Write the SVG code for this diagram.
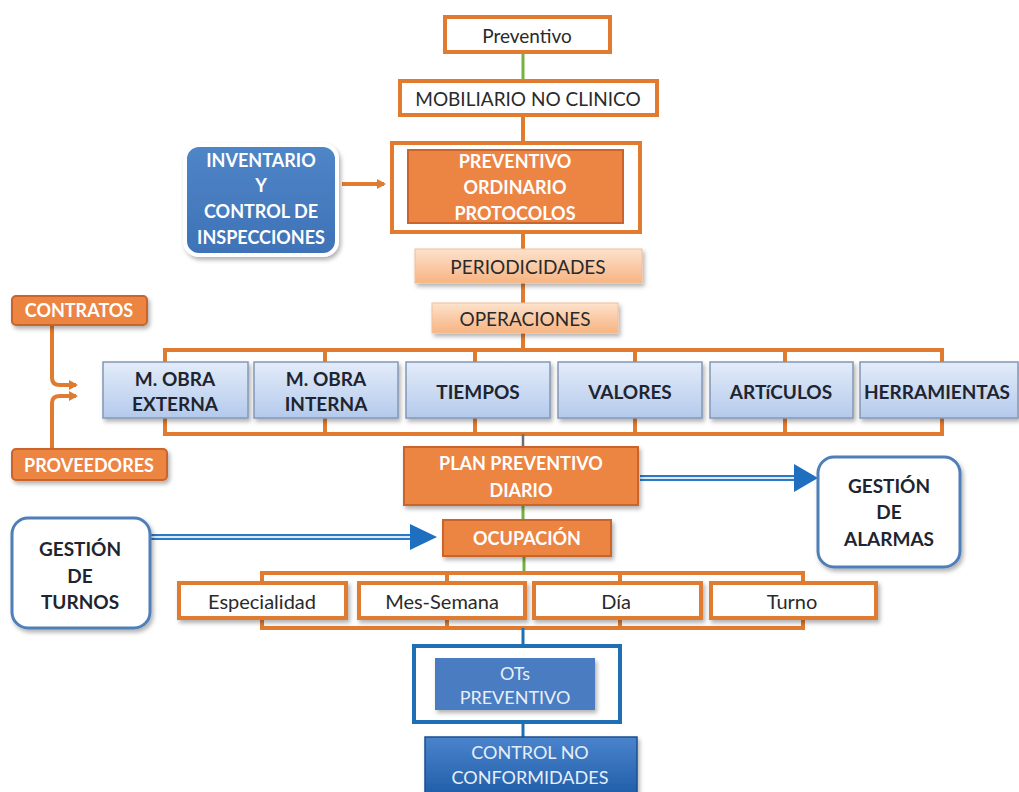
<svg xmlns="http://www.w3.org/2000/svg" width="1019" height="792" viewBox="0 0 1019 792">
<defs>
<linearGradient id="gBlueLight" x1="0" y1="0" x2="0" y2="1"><stop offset="0" stop-color="#e3ecf9"/><stop offset="1" stop-color="#b4caec"/></linearGradient>
<linearGradient id="gPeach" x1="0" y1="0" x2="0" y2="1"><stop offset="0" stop-color="#fde2cc"/><stop offset="1" stop-color="#f7b482"/></linearGradient>
<linearGradient id="gBlueDark" x1="0" y1="0" x2="0" y2="1"><stop offset="0" stop-color="#4a84cc"/><stop offset="1" stop-color="#1f5ca8"/></linearGradient>
<linearGradient id="gInv" x1="0" y1="0" x2="0" y2="1"><stop offset="0" stop-color="#4f86c8"/><stop offset="1" stop-color="#3e72b6"/></linearGradient>
<filter id="sh" x="-10%" y="-10%" width="130%" height="140%"><feDropShadow dx="2" dy="3" stdDeviation="2" flood-color="#000" flood-opacity="0.3"/></filter>
<marker id="arO" markerWidth="10" markerHeight="10" refX="7" refY="5" orient="auto" markerUnits="userSpaceOnUse"><path d="M0,0 L9,5 L0,10 z" fill="#e07b30"/></marker>
</defs>
<style>
text{font-family:Lato,"Noto Sans","Liberation Sans",sans-serif;text-anchor:middle;dominant-baseline:central}
.ob{fill:#fff;stroke:#e07b30;stroke-width:4}
.of{fill:#ec8443;stroke:#c9652a;stroke-width:2}
.bl{fill:url(#gBlueLight);stroke:#8497b6;stroke-width:1.5}
.pe{fill:url(#gPeach);stroke:#f0c09a;stroke-width:1}
.w{fill:#fff;font-weight:bold;font-size:18px}
.d{fill:#2a2a2a;font-size:19px}
.d2{fill:#2a2a2a;font-size:20px}
.db{fill:#1e2530;font-weight:bold;font-size:19px}
.lw{fill:#e8eef8;font-size:18px}
.lo{stroke:#e07b30;stroke-width:4;fill:none}
.lg{stroke:#77b043;stroke-width:3;fill:none}
.lb{stroke:#1f6fb5;stroke-width:3;fill:none}
</style>
<rect width="1019" height="792" fill="#fff"/>

<g id="connectors">
<line class="lg" x1="523" y1="52" x2="523" y2="82"/>
<line class="lo" x1="523" y1="115" x2="523" y2="145"/>
<line class="lo" x1="342" y1="184" x2="384" y2="184" marker-end="url(#arO)"/>
<line class="lo" x1="523" y1="232" x2="523" y2="250"/>
<line class="lo" x1="523" y1="283" x2="523" y2="304"/>
<line class="lo" x1="523" y1="333" x2="523" y2="350"/>
<rect class="lo" x="165" y="350" width="777" height="84" stroke-width="3.5"/>
<line class="lo" x1="325" y1="350" x2="325" y2="434" stroke-width="3.5"/>
<line class="lo" x1="475" y1="350" x2="475" y2="434" stroke-width="3.5"/>
<line class="lo" x1="635" y1="350" x2="635" y2="434" stroke-width="3.5"/>
<line class="lo" x1="785" y1="350" x2="785" y2="434" stroke-width="3.5"/>
<line x1="523" y1="434" x2="523" y2="448" stroke="#6f6f6f" stroke-width="2.5"/>
<path class="lo" d="M52,325 V378 Q52,385 60,385 H76" marker-end="url(#arO)"/>
<path class="lo" d="M52,449 V403 Q52,396 60,396 H76" marker-end="url(#arO)"/>
<line class="lg" x1="523" y1="505" x2="523" y2="521"/>
<line x1="640" y1="478" x2="798" y2="478" stroke="#2a78c8" stroke-width="6"/>
<line x1="640" y1="478" x2="798" y2="478" stroke="#dbe8f6" stroke-width="2"/>
<path d="M794,464 L818,478 L794,492 z" fill="#1f6fc0"/>
<line x1="150" y1="537" x2="414" y2="537" stroke="#2a78c8" stroke-width="6"/>
<line x1="150" y1="537" x2="414" y2="537" stroke="#dbe8f6" stroke-width="2"/>
<path d="M410,524 L437,537 L410,550 z" fill="#1f6fc0"/>
<line class="lg" x1="524" y1="556" x2="524" y2="573"/>
<rect class="lo" x="262" y="573" width="541" height="55" stroke-width="3.5"/>
<line class="lo" x1="447" y1="573" x2="447" y2="628" stroke-width="3.5"/>
<line class="lo" x1="620" y1="573" x2="620" y2="628" stroke-width="3.5"/>
<line class="lb" x1="523" y1="628" x2="523" y2="646"/>
<line class="lb" x1="523" y1="722" x2="523" y2="738"/>
</g>

<g id="n-preventivo"><rect class="ob" x="445" y="17" width="165" height="35"/><text class="d" x="527" y="35">Preventivo</text></g>
<g id="n-mobiliario"><rect class="ob" x="400" y="81" width="257" height="34"/><text class="d" x="528" y="98">MOBILIARIO NO CLINICO</text></g>
<g id="n-protocolos"><rect class="ob" x="392" y="143" width="248" height="89"/><rect class="of" x="408" y="150" width="215" height="73"/>
<text class="w" x="515" y="161">PREVENTIVO</text><text class="w" x="515" y="187">ORDINARIO</text><text class="w" x="515" y="213">PROTOCOLOS</text></g>
<g id="n-inventario"><rect x="185" y="145" width="152" height="110" rx="14" fill="url(#gInv)" stroke="#fff" stroke-width="4" filter="url(#sh)"/>
<text class="w" x="261" y="160">INVENTARIO</text><text class="w" x="261" y="185">Y</text><text class="w" x="261" y="211">CONTROL DE</text><text class="w" x="261" y="237">INSPECCIONES</text></g>
<g id="n-periodicidades"><rect class="pe" x="415" y="249" width="227" height="34" filter="url(#sh)"/><text class="d" x="528" y="266">PERIODICIDADES</text></g>
<g id="n-operaciones"><rect class="pe" x="432" y="303" width="186" height="30" filter="url(#sh)"/><text class="d" x="525" y="318">OPERACIONES</text></g>

<g id="n-mobra-ext"><rect class="bl" x="103" y="362" width="145" height="56" filter="url(#sh)"/><text class="db" x="175" y="378">M. OBRA</text><text class="db" x="175" y="403">EXTERNA</text></g>
<g id="n-mobra-int"><rect class="bl" x="254" y="362" width="144" height="56" filter="url(#sh)"/><text class="db" x="326" y="378">M. OBRA</text><text class="db" x="326" y="403">INTERNA</text></g>
<g id="n-tiempos"><rect class="bl" x="406" y="362" width="144" height="56" filter="url(#sh)"/><text class="db" x="478" y="391">TIEMPOS</text></g>
<g id="n-valores"><rect class="bl" x="558" y="362" width="144" height="56" filter="url(#sh)"/><text class="db" x="630" y="391">VALORES</text></g>
<g id="n-articulos"><rect class="bl" x="710" y="362" width="143" height="56" filter="url(#sh)"/><text class="db" x="781" y="391">ARTíCULOS</text></g>
<g id="n-herramientas"><rect class="bl" x="860" y="362" width="158" height="56" filter="url(#sh)"/><text class="db" x="937" y="391">HERRAMIENTAS</text></g>

<g id="n-contratos"><rect class="of" x="12" y="296" width="135" height="29" rx="4" filter="url(#sh)"/><text class="w" x="79" y="310" font-size="17">CONTRATOS</text></g>
<g id="n-proveedores"><rect class="of" x="12" y="449" width="155" height="31" rx="4" filter="url(#sh)"/><text class="w" x="89" y="465" font-size="17">PROVEEDORES</text></g>

<g id="n-plan"><rect class="of" x="404" y="447" width="234" height="58" filter="url(#sh)"/><text class="w" x="521" y="463">PLAN PREVENTIVO</text><text class="w" x="521" y="490">DIARIO</text></g>
<g id="n-alarmas"><rect x="818" y="457" width="142" height="110" rx="16" fill="#fff" stroke="#4f7fb8" stroke-width="3" filter="url(#sh)"/>
<text class="db" x="889" y="485">GESTIÓN</text><text class="db" x="889" y="511">DE</text><text class="db" x="889" y="538">ALARMAS</text></g>
<g id="n-ocupacion"><rect class="of" x="443" y="520" width="168" height="36" filter="url(#sh)"/><text class="w" x="527" y="538">OCUPACIÓN</text></g>
<g id="n-turnos"><rect x="12" y="518" width="138" height="110" rx="16" fill="#fff" stroke="#4f7fb8" stroke-width="3" filter="url(#sh)"/>
<text class="db" x="80" y="548">GESTIÓN</text><text class="db" x="80" y="575">DE</text><text class="db" x="80" y="601">TURNOS</text></g>

<g id="n-especialidad"><rect class="ob" x="179" y="583" width="167" height="35" filter="url(#sh)"/><text class="d2" x="262" y="601">Especialidad</text></g>
<g id="n-messemana"><rect class="ob" x="359" y="583" width="166" height="35" filter="url(#sh)"/><text class="d2" x="442" y="601">Mes-Semana</text></g>
<g id="n-dia"><rect class="ob" x="534" y="583" width="167" height="35" filter="url(#sh)"/><text class="d2" x="616" y="601">Día</text></g>
<g id="n-turno"><rect class="ob" x="711" y="583" width="165" height="35" filter="url(#sh)"/><text class="d2" x="792" y="601">Turno</text></g>

<g id="n-ots"><rect x="414" y="646" width="206" height="76" fill="#fff" stroke="#1f6fb5" stroke-width="4"/><rect x="435" y="658" width="160" height="52" fill="#4a7cc0" filter="url(#sh)"/>
<text class="lw" x="515" y="673">OTs</text><text class="lw" x="515" y="697">PREVENTIVO</text></g>
<g id="n-control"><rect x="425" y="737" width="212" height="60" fill="url(#gBlueDark)" stroke="#1a4f90" stroke-width="1.5" filter="url(#sh)"/>
<text class="lw" x="530" y="752">CONTROL NO</text><text class="lw" x="530" y="777">CONFORMIDADES</text></g>
</svg>
